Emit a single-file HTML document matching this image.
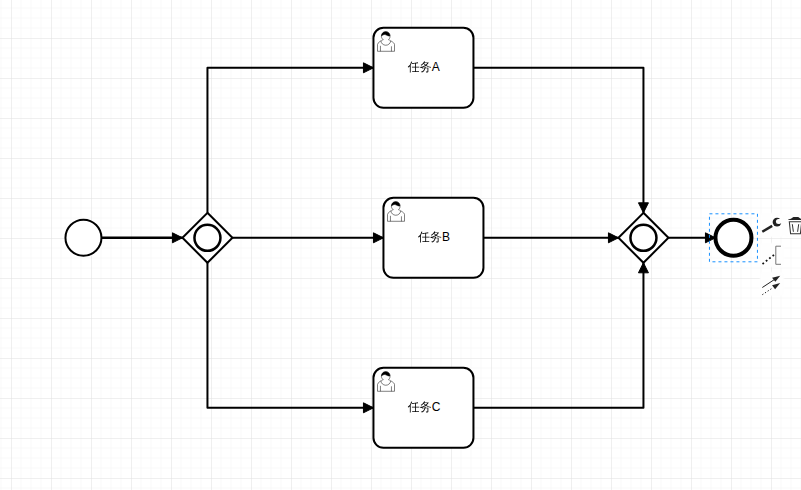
<!DOCTYPE html>
<html lang="zh-CN">
<head>
<meta charset="utf-8">
<title>BPMN</title>
<style>
html,body{margin:0;padding:0;background:#fff;overflow:hidden;}
body{width:801px;height:490px;position:relative;}
svg{display:block;position:absolute;left:0;top:0;}
.entry{position:absolute;width:22px;height:22px;border-radius:3px;background-color:#fefefe;box-shadow:0 0 2px 1px #fefefe;}
.lbl{font-family:"Liberation Sans","WenQuanYi Zen Hei","Noto Sans CJK SC",sans-serif;font-size:12px;fill:#000;}
</style>
</head>
<body>
<svg width="801" height="490" viewBox="0 0 801 490">
<defs>
<pattern id="grid" width="40" height="40" patternUnits="userSpaceOnUse" x="11" y="38">
<path d="M0 10h40M10 0v40M0 20h40M20 0v40M0 30h40M30 0v40" fill="none" stroke="#e0e0e0" opacity=".2"/>
<path d="M40 0H0v40" fill="none" stroke="#e0e0e0"/>
</pattern>
</defs>
<rect x="0" y="0" width="801" height="490" fill="#fff"/>
<rect x="0" y="0" width="801" height="490" fill="url(#grid)"/>
<g transform="translate(-0.55,-0.2)">
<path d="M102,237.95 L183,237.95" fill="none" stroke="#000" stroke-width="2.5" stroke-linejoin="round"/>
<path d="M183,238 L173,243 L173,233 Z" fill="#000" stroke="#000" stroke-width="1" stroke-linejoin="round"/>
<path d="M208,213 L208,68 L374,68" fill="none" stroke="#000" stroke-width="2" stroke-linejoin="round"/>
<path d="M374,68 L364,73 L364,63 Z" fill="#000" stroke="#000" stroke-width="1" stroke-linejoin="round"/>
<path d="M233,238 L384,238" fill="none" stroke="#000" stroke-width="2" stroke-linejoin="round"/>
<path d="M384,238 L374,243 L374,233 Z" fill="#000" stroke="#000" stroke-width="1" stroke-linejoin="round"/>
<path d="M208,263 L208,408 L374,408" fill="none" stroke="#000" stroke-width="2" stroke-linejoin="round"/>
<path d="M374,408 L364,413 L364,403 Z" fill="#000" stroke="#000" stroke-width="1" stroke-linejoin="round"/>
<path d="M474,68 L644,68 L644,213" fill="none" stroke="#000" stroke-width="2" stroke-linejoin="round"/>
<path d="M644,213 L639,203 L649,203 Z" fill="#000" stroke="#000" stroke-width="1" stroke-linejoin="round"/>
<path d="M484,238 L619,238" fill="none" stroke="#000" stroke-width="2" stroke-linejoin="round"/>
<path d="M619,238 L609,243 L609,233 Z" fill="#000" stroke="#000" stroke-width="1" stroke-linejoin="round"/>
<path d="M474,408 L644,408 L644,263" fill="none" stroke="#000" stroke-width="2" stroke-linejoin="round"/>
<path d="M644,263 L649,273 L639,273 Z" fill="#000" stroke="#000" stroke-width="1" stroke-linejoin="round"/>
<path d="M669,238 L716,238" fill="none" stroke="#000" stroke-width="2" stroke-linejoin="round"/>
<path d="M716,238 L706,243 L706,233 Z" fill="#000" stroke="#000" stroke-width="1" stroke-linejoin="round"/>
<circle cx="84" cy="238" r="18" fill="#fff" stroke="#000" stroke-width="2"/>
<polygon points="208,213 233,238 208,263 183,238" fill="#fff" stroke="#000" stroke-width="2"/>
<circle cx="208" cy="238" r="13" fill="#fff" stroke="#000" stroke-width="2.5"/>
<rect x="374" y="28" width="100" height="80" rx="10" ry="10" fill="#fff" stroke="#000" stroke-width="2"/>
<text x="424.2" y="71.3" text-anchor="middle" class="lbl">任务A</text>
<path d="m 389,40 c 0.909,-0.845 1.594,-2.049 1.594,-3.385 0,-2.554 -1.805,-4.62199999 -4.357,-4.62199999 -2.55199998,0 -4.28799998,2.06799999 -4.28799998,4.62199999 0,1.348 0.974,2.562 1.89599998,3.405 -0.52899998,0.187 -5.669,2.097 -5.794,4.7560005 v 6.718 h 17 v -6.718 c 0,-2.2980005 -5.5279996,-4.5950005 -6.0509996,-4.7760005 zm -8,6 l 0,5.5 m 11,0 l 0,-5" fill="#fff" stroke="#000" stroke-width="0.5"/>
<path d="m 389,40 m 2.162,1.009 c 0,2.4470005 -2.158,4.4310005 -4.821,4.4310005 -2.66499998,0 -4.822,-1.981 -4.822,-4.4310005" fill="#fff" stroke="#000" stroke-width="0.5"/>
<path d="m 389,40 m -6.9,-3.80 c 0,0 2.25099998,-2.358 4.27399998,-1.177 2.024,1.181 4.221,1.537 4.124,0.965 -0.098,-0.57 -0.117,-3.79099999 -4.191,-4.13599999 -3.57499998,0.001 -4.20799998,3.36699999 -4.20699998,4.34799999 z" fill="#000" stroke="#000" stroke-width="0.5"/>
<rect x="384" y="198" width="100" height="80" rx="10" ry="10" fill="#fff" stroke="#000" stroke-width="2"/>
<text x="434.6" y="241.3" text-anchor="middle" class="lbl">任务B</text>
<path d="m 399,210 c 0.909,-0.845 1.594,-2.049 1.594,-3.385 0,-2.554 -1.805,-4.62199999 -4.357,-4.62199999 -2.55199998,0 -4.28799998,2.06799999 -4.28799998,4.62199999 0,1.348 0.974,2.562 1.89599998,3.405 -0.52899998,0.187 -5.669,2.097 -5.794,4.7560005 v 6.718 h 17 v -6.718 c 0,-2.2980005 -5.5279996,-4.5950005 -6.0509996,-4.7760005 zm -8,6 l 0,5.5 m 11,0 l 0,-5" fill="#fff" stroke="#000" stroke-width="0.5"/>
<path d="m 399,210 m 2.162,1.009 c 0,2.4470005 -2.158,4.4310005 -4.821,4.4310005 -2.66499998,0 -4.822,-1.981 -4.822,-4.4310005" fill="#fff" stroke="#000" stroke-width="0.5"/>
<path d="m 399,210 m -6.9,-3.80 c 0,0 2.25099998,-2.358 4.27399998,-1.177 2.024,1.181 4.221,1.537 4.124,0.965 -0.098,-0.57 -0.117,-3.79099999 -4.191,-4.13599999 -3.57499998,0.001 -4.20799998,3.36699999 -4.20699998,4.34799999 z" fill="#000" stroke="#000" stroke-width="0.5"/>
<rect x="374" y="368" width="100" height="80" rx="10" ry="10" fill="#fff" stroke="#000" stroke-width="2"/>
<text x="424.7" y="411.3" text-anchor="middle" class="lbl">任务C</text>
<path d="m 389,380 c 0.909,-0.845 1.594,-2.049 1.594,-3.385 0,-2.554 -1.805,-4.62199999 -4.357,-4.62199999 -2.55199998,0 -4.28799998,2.06799999 -4.28799998,4.62199999 0,1.348 0.974,2.562 1.89599998,3.405 -0.52899998,0.187 -5.669,2.097 -5.794,4.7560005 v 6.718 h 17 v -6.718 c 0,-2.2980005 -5.5279996,-4.5950005 -6.0509996,-4.7760005 zm -8,6 l 0,5.5 m 11,0 l 0,-5" fill="#fff" stroke="#000" stroke-width="0.5"/>
<path d="m 389,380 m 2.162,1.009 c 0,2.4470005 -2.158,4.4310005 -4.821,4.4310005 -2.66499998,0 -4.822,-1.981 -4.822,-4.4310005" fill="#fff" stroke="#000" stroke-width="0.5"/>
<path d="m 389,380 m -6.9,-3.80 c 0,0 2.25099998,-2.358 4.27399998,-1.177 2.024,1.181 4.221,1.537 4.124,0.965 -0.098,-0.57 -0.117,-3.79099999 -4.191,-4.13599999 -3.57499998,0.001 -4.20799998,3.36699999 -4.20699998,4.34799999 z" fill="#000" stroke="#000" stroke-width="0.5"/>
<polygon points="644,213 669,238 644,263 619,238" fill="#fff" stroke="#000" stroke-width="2"/>
<circle cx="644" cy="238" r="13" fill="#fff" stroke="#000" stroke-width="2.5"/>
<circle cx="734" cy="238" r="18" fill="#fff" stroke="#000" stroke-width="4"/>
<rect x="710" y="214" width="48" height="48" fill="none" stroke="#1890ff" stroke-width="1" stroke-dasharray="3,3"/>
</g>
<!--PAD-->
</svg>
<div class="pad">
<div class="entry" style="left:761px;top:214px"></div>
<div class="entry" style="left:785px;top:214px"></div>
<div class="entry" style="left:761px;top:244px"></div>
<div class="entry" style="left:761px;top:273px"></div>
</div>
<svg class="icons" width="801" height="490" viewBox="0 0 801 490">
<defs><mask id="wm" maskUnits="userSpaceOnUse" x="770" y="215" width="14" height="14"><rect x="770" y="215" width="14" height="14" fill="#fff"/><circle cx="778.45" cy="221.55" r="2.5" fill="#000"/><rect x="778.45" y="219.25" width="5" height="4.6" fill="#000" transform="rotate(-12 778.45 221.55)"/></mask></defs>
<ellipse cx="777.0" cy="222.1" rx="4.35" ry="4.45" fill="#222" mask="url(#wm)"/>
<path d="M762.3,231.8 L772.2,225.9" stroke="#222" stroke-width="2.5" stroke-linecap="butt" fill="none"/>
<path d="M793.4,216.9 H798.2 L800.7,218.7 L802.8,219.45 V220 H788.2 V219.45 L790.9,218.7 Z" fill="#222"/>
<path d="M789.3,221.8 H801.7 L800.4,233.7 H790.6 Z" stroke="#333" stroke-width="1.05" fill="none" stroke-linejoin="miter"/>
<path d="M792.3,224.2 L793.4,231.8 M798.7,224.2 L797.6,231.8" stroke="#333" stroke-width="1" fill="none"/>
<path d="M781,246.2 H775.8 V264.3 H781" stroke="#777" stroke-width="1" fill="none"/>
<rect x="762.30" y="262.50" width="1.8" height="1.8" fill="#111" transform="rotate(-38 763.2 263.4)"/>
<rect x="765.70" y="259.80" width="1.8" height="1.8" fill="#111" transform="rotate(-38 766.6 260.7)"/>
<rect x="769.00" y="257.20" width="1.8" height="1.8" fill="#111" transform="rotate(-38 769.9 258.1)"/>
<rect x="772.40" y="254.50" width="1.8" height="1.8" fill="#111" transform="rotate(-38 773.3 255.4)"/>
<path d="M762.3,287.5 L774,279.8" stroke="#222" stroke-width="1" fill="none"/>
<path d="M780.2,275.7 L772.05,277.8 L775.3,281.7 Z" fill="#222"/>
<path d="M762.3,294.7 L773,287.7" stroke="#222" stroke-width="1" stroke-dasharray="1.3,1.9" fill="none"/>
<path d="M780.2,283 L772.05,285.3 L775.1,289.2 Z" fill="#222"/>
</svg>

</body>
</html>
